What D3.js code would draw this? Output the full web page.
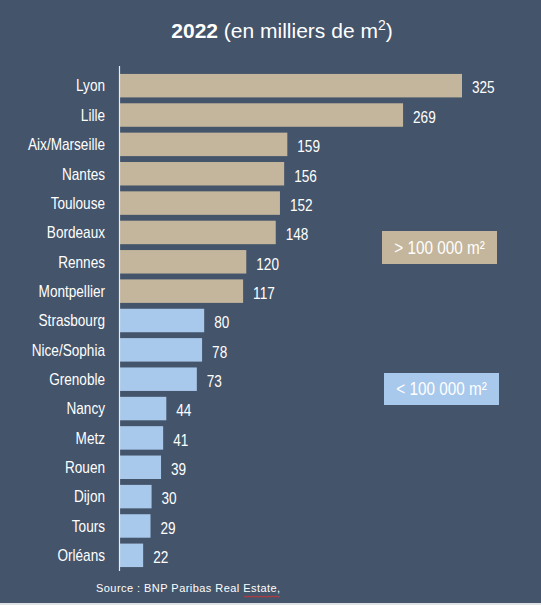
<!DOCTYPE html>
<html>
<head>
<meta charset="utf-8">
<script src="https://cdn.jsdelivr.net/npm/d3@7"></script>
<style>
  html, body { margin: 0; padding: 0; background: #44546a; }
  svg { display: block; }
</style>
</head>
<body>
<svg id="chart" width="541" height="605"></svg>
<script>
const cities = ["Lyon", "Lille", "Aix/Marseille", "Nantes", "Toulouse", "Bordeaux", "Rennes", "Montpellier",
  "Strasbourg", "Nice/Sophia", "Grenoble", "Nancy", "Metz", "Rouen", "Dijon", "Tours", "Orléans"];
const values = [325, 269, 159, 156, 152, 148, 120, 117, 80, 78, 73, 44, 41, 39, 30, 29, 22];
const groups = ["> 100 000 m²", "< 100 000 m²"];
const groupColors = ["#c4b69c", "#a9c9ec"];
const threshold = 100;

const W = 541, H = 605;
const svg = d3.select("#chart");
const bg = "#44546a";
svg.append("rect").attr("width", W).attr("height", H).attr("fill", bg);
svg.append("rect").attr("x", 0).attr("y", H - 2).attr("width", W).attr("height", 2).attr("fill", "#dfe3e8");

const sans = "'Liberation Sans', Arial, sans-serif";
const SX = 0.85; // horizontal condensing to mimic Arial Narrow

const x = d3.scaleLinear().domain([0, 325]).range([120, 462]);
const y = d3.scaleBand().domain(cities).range([71, 570]).paddingInner(0.2).paddingOuter(0.1);

// title
const title = svg.append("text").attr("x", 282).attr("y", 38).attr("text-anchor", "middle")
  .attr("fill", "#ffffff").attr("font-family", sans).attr("font-size", 21);
title.append("tspan").attr("font-weight", "bold").text("2022");
title.append("tspan").text(" (en milliers de m");
title.append("tspan").attr("font-size", 14).attr("dy", -8).text("2");
title.append("tspan").attr("dy", 8).text(")");

// bars
const data = cities.map((c, i) => ({ city: c, value: values[i] }));
svg.append("g").selectAll("rect").data(data).join("rect")
  .attr("x", x(0))
  .attr("y", d => y(d.city))
  .attr("width", d => x(d.value) - x(0))
  .attr("height", y.bandwidth())
  .attr("fill", d => d.value > threshold ? groupColors[0] : groupColors[1]);

// axis line
svg.append("line").attr("x1", 119.5).attr("x2", 119.5).attr("y1", 66).attr("y2", 571)
  .attr("stroke", "#e8ecf0").attr("stroke-width", 1.2);

// city labels (condensed)
svg.append("g").selectAll("text").data(data).join("text")
  .attr("transform", d => `translate(105,${y(d.city) + y.bandwidth() / 2}) scale(${SX},1)`)
  .attr("dy", "0.36em")
  .attr("text-anchor", "end")
  .attr("fill", "#ffffff")
  .attr("font-family", sans)
  .attr("font-size", 16)
  .text(d => d.city);

// value labels (condensed)
svg.append("g").selectAll("text").data(data).join("text")
  .attr("transform", d => `translate(${x(d.value) + 10},${y(d.city) + y.bandwidth() / 2 + 2}) scale(${SX},1)`)
  .attr("dy", "0.36em")
  .attr("fill", "#ffffff")
  .attr("font-family", sans)
  .attr("font-size", 16)
  .text(d => d.value);

// legend boxes
const legendPos = [{ x: 382, y: 231, w: 115, h: 33 }, { x: 384, y: 373, w: 115, h: 32 }];
groups.forEach((g, i) => {
  const p = legendPos[i];
  svg.append("rect").attr("x", p.x).attr("y", p.y).attr("width", p.w).attr("height", p.h)
    .attr("fill", groupColors[i]);
  svg.append("text")
    .attr("transform", `translate(${p.x + p.w / 2},${p.y + p.h / 2}) scale(${SX},1)`)
    .attr("dy", "0.36em")
    .attr("text-anchor", "middle").attr("fill", "#ffffff")
    .attr("font-family", sans).attr("font-size", 18).text(g);
});

// source
svg.append("text").attr("x", 96).attr("y", 592)
  .attr("fill", "#ffffff").attr("font-family", sans).attr("font-size", 11)
  .attr("letter-spacing", 0.45).text("Source : BNP Paribas Real Estate,");
// spell-check squiggle under "Estate,"
const sq = d3.range(0, 38, 2).map((d, i) => [244 + d, 596 + (i % 2 ? 1.2 : 0)]);
svg.append("path").attr("d", d3.line()(sq)).attr("fill", "none").attr("stroke", "#e03030").attr("stroke-width", 0.9);
</script>
</body>
</html>
